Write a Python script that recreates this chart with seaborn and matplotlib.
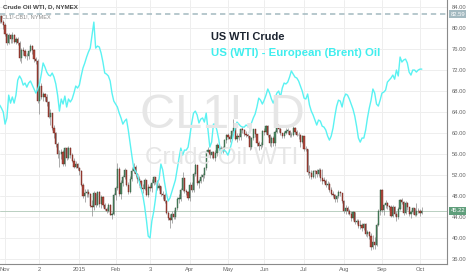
import numpy as np
import pandas as pd
import matplotlib
matplotlib.use("Agg")
import matplotlib.pyplot as plt
import seaborn as sns

# ---------------- data ----------------
month_labels = ["Nov", "2", "2015", "Feb", "3", "Apr", "May", "Jun", "Jul", "Aug", "Sep", "Oct"]
# trading bars per month: Oct-2014 (partial), Nov ... Sep, Oct-2015 (partial)
month_bars = [5, 19, 22, 20, 19, 22, 21, 20, 22, 22, 21, 21, 2]

wti_open = [
    81.20, 81.00, 81.42, 82.20, 81.12,
    80.54, 78.78, 77.19, 78.68, 77.91, 78.65, 77.40, 77.94, 77.18, 74.21, 75.82, 75.64, 74.61, 74.58, 75.58, 76.51, 75.78, 74.09, 73.69,
    66.15, 69.00, 66.88, 67.38, 66.81, 65.84, 63.05, 63.82, 60.94, 59.95, 57.81, 55.91, 55.93, 56.47, 54.11, 57.13, 55.26, 57.12, 55.84, 54.73, 53.61, 54.12,
    53.27, 52.69, 50.04, 47.93, 48.65, 48.79, 48.36, 46.07, 45.89, 48.48, 46.25, 48.69, 46.39, 47.78, 46.31, 45.59, 45.15, 46.23, 44.45, 44.53,
    48.24, 49.57, 53.05, 48.45, 50.48, 51.69, 52.86, 50.02, 48.84, 51.21, 52.78, 53.53, 52.14, 51.16, 50.81, 49.45, 49.25, 50.99, 48.17,
    49.76, 49.59, 50.52, 51.53, 50.76, 49.61, 50.00, 48.29, 48.17, 47.05, 44.84, 43.88, 43.46, 44.66, 43.96, 45.72, 47.45, 47.51, 49.21, 51.43, 48.87, 48.68,
    47.60, 50.09, 49.14, 52.14, 53.98, 50.42, 50.79, 51.64, 51.91, 53.29, 56.39, 56.71, 55.74, 56.38, 55.26, 56.16, 57.74, 57.15, 56.99, 57.06, 58.58,
    59.63, 59.15, 58.93, 60.40, 60.93, 58.94, 59.39, 59.25, 60.75, 60.50, 59.88, 59.69, 59.43, 57.26, 58.98, 60.72, 59.72, 58.03, 57.51, 57.68,
    60.30, 60.20, 61.26, 59.64, 58.00, 59.13, 58.14, 60.14, 61.43, 60.77, 59.96, 59.52, 59.97, 60.45, 60.45, 59.61, 59.68, 61.01, 60.27, 59.70, 59.63, 58.33,
    59.47, 56.96, 56.93, 52.53, 52.33, 51.65, 52.78, 52.74, 52.20, 53.04, 51.41, 50.91, 50.89, 50.15, 50.36, 49.19, 48.45, 48.14, 47.39, 47.98, 48.79, 48.52,
    47.12, 45.17, 45.74, 45.15, 44.66, 43.87, 44.96, 43.08, 43.30, 42.23, 42.50, 41.87, 42.62, 40.80, 41.14, 40.45, 38.24, 39.31, 38.60, 42.56, 45.22,
    49.20, 45.41, 46.25, 46.75, 46.05, 45.94, 44.15, 45.92, 44.63, 44.00, 45.59, 47.15, 46.90, 44.68, 46.68, 45.83, 44.48, 44.91, 45.70, 44.43, 45.23,
    45.09, 44.74,
]
wti_high = [
    81.9, 82.1, 82.5, 82.4, 81.6,
    80.9, 79.0, 79.0, 78.9, 79.2, 78.9, 78.3, 78.3, 77.6, 76.1, 76.3, 76.0, 75.3, 75.9, 77.0, 76.8, 76.0, 74.4, 74.0,
    69.5, 69.5, 67.9, 67.6, 67.4, 66.0, 64.5, 63.8, 61.5, 60.2, 58.2, 56.7, 57.0, 56.7, 57.4, 57.3, 57.5, 57.4, 56.2, 55.3, 54.6, 54.2,
    53.6, 53.0, 50.5, 49.3, 49.3, 49.3, 48.6, 47.3, 49.0, 48.6, 49.0, 48.9, 48.2, 48.0, 46.6, 46.0, 46.6, 46.4, 45.0, 48.5,
    50.0, 54.2, 53.5, 51.1, 52.0, 53.3, 53.0, 50.6, 51.8, 53.3, 54.2, 53.9, 52.4, 51.9, 51.0, 50.2, 51.4, 51.1, 50.3,
    50.3, 51.2, 51.8, 51.7, 51.0, 50.5, 50.0, 48.9, 48.5, 47.3, 45.2, 44.5, 45.1, 45.3, 46.0, 47.8, 48.4, 49.6, 52.5, 51.2, 49.3, 48.9,
    50.6, 50.6, 52.6, 54.2, 54.0, 51.3, 52.1, 52.3, 53.6, 56.7, 57.4, 57.0, 56.6, 56.6, 56.8, 58.0, 58.3, 57.5, 57.5, 58.9, 59.9,
    60.0, 59.7, 60.6, 62.6, 61.0, 60.0, 60.0, 61.0, 61.1, 60.8, 60.3, 60.2, 59.5, 59.2, 60.8, 60.8, 59.8, 58.4, 58.3, 60.5,
    60.9, 61.5, 61.5, 59.9, 59.5, 59.5, 60.5, 61.6, 61.6, 61.1, 60.0, 60.3, 61.0, 61.0, 60.5, 60.1, 61.3, 61.2, 60.5, 60.2, 59.8, 59.7,
    59.5, 57.6, 56.9, 53.9, 52.9, 52.9, 53.0, 53.2, 53.3, 53.4, 53.1, 51.6, 51.3, 50.9, 50.7, 49.7, 48.9, 48.3, 48.2, 49.2, 49.0, 48.6,
    47.3, 46.2, 46.1, 45.6, 45.1, 45.2, 45.0, 43.6, 43.6, 43.4, 42.9, 42.8, 42.8, 41.6, 41.4, 40.9, 40.5, 40.1, 42.8, 45.5, 49.3,
    49.4, 46.4, 47.2, 46.8, 46.3, 46.3, 46.2, 46.1, 45.1, 45.9, 47.5, 47.7, 47.1, 47.0, 46.8, 45.9, 45.3, 45.9, 45.8, 46.7, 45.7,
    45.6, 45.9,
]
wti_low = [
    80.2, 80.5, 81.0, 80.9, 79.9,
    78.5, 76.7, 76.9, 77.1, 77.2, 77.1, 77.0, 76.8, 73.8, 73.3, 74.9, 74.3, 73.9, 74.0, 75.4, 75.1, 73.6, 73.2, 65.7,
    63.7, 66.4, 66.0, 66.1, 65.2, 62.8, 61.6, 60.6, 59.0, 57.3, 55.3, 53.6, 55.0, 53.8, 53.8, 54.9, 55.1, 55.3, 54.5, 53.3, 53.3, 52.9,
    52.0, 49.9, 47.6, 46.8, 47.8, 47.8, 45.9, 44.2, 45.3, 46.0, 46.2, 46.0, 45.8, 46.0, 45.3, 44.8, 44.9, 44.3, 43.6, 44.4,
    47.3, 49.2, 48.0, 47.4, 49.9, 51.2, 49.9, 48.4, 48.6, 50.8, 52.4, 51.6, 50.5, 50.1, 48.9, 48.5, 49.1, 48.0, 47.9,
    48.9, 48.8, 50.1, 50.2, 49.2, 49.2, 48.0, 47.5, 46.7, 44.5, 43.5, 42.0, 42.9, 43.6, 43.7, 45.4, 46.7, 47.0, 48.9, 48.6, 48.2, 47.2,
    47.0, 48.8, 48.8, 51.8, 50.1, 49.6, 50.4, 50.8, 51.5, 53.0, 55.5, 55.3, 55.2, 55.0, 54.6, 55.6, 56.8, 56.6, 56.2, 56.5, 58.1,
    58.8, 58.2, 58.6, 60.0, 58.6, 58.3, 58.6, 58.7, 60.0, 59.4, 59.3, 59.0, 56.8, 57.0, 58.7, 59.3, 57.6, 56.8, 56.9, 57.4,
    59.7, 59.9, 59.3, 57.5, 57.4, 57.6, 57.6, 60.0, 60.2, 59.6, 59.0, 59.0, 59.8, 59.9, 59.3, 59.3, 59.5, 59.8, 59.4, 58.8, 57.3, 58.0,
    56.5, 56.6, 52.0, 51.5, 51.2, 51.4, 51.5, 51.6, 51.8, 50.8, 50.3, 50.4, 49.8, 49.4, 48.8, 48.2, 47.9, 46.9, 46.9, 47.7, 48.0, 46.7,
    44.8, 44.6, 44.6, 44.4, 43.3, 43.5, 42.7, 42.6, 42.0, 41.8, 41.4, 41.5, 40.4, 40.2, 39.9, 37.8, 38.0, 38.0, 38.4, 42.3, 44.4,
    44.9, 44.4, 45.8, 45.6, 45.3, 44.0, 44.0, 44.2, 43.2, 43.7, 45.3, 46.4, 44.3, 44.5, 45.4, 44.2, 43.8, 44.6, 44.2, 44.2, 44.7,
    44.2, 44.5,
]
wti_close = [
    81.00, 81.42, 82.20, 81.12, 80.54,
    78.78, 77.19, 78.68, 77.91, 78.65, 77.40, 77.94, 77.18, 74.21, 75.82, 75.64, 74.61, 74.58, 75.58, 76.51, 75.78, 74.09, 73.69, 66.15,
    69.00, 66.88, 67.38, 66.81, 65.84, 63.05, 63.82, 60.94, 59.95, 57.81, 55.91, 55.93, 56.47, 54.11, 57.13, 55.26, 57.12, 55.84, 54.73, 53.61, 54.12, 53.27,
    52.69, 50.04, 47.93, 48.65, 48.79, 48.36, 46.07, 45.89, 48.48, 46.25, 48.69, 46.39, 47.78, 46.31, 45.59, 45.15, 46.23, 44.45, 44.53, 48.24,
    49.57, 53.05, 48.45, 50.48, 51.69, 52.86, 50.02, 48.84, 51.21, 52.78, 53.53, 52.14, 51.16, 50.81, 49.45, 49.25, 50.99, 48.17, 49.76,
    49.59, 50.52, 51.53, 50.76, 49.61, 50.00, 48.29, 48.17, 47.05, 44.84, 43.88, 43.46, 44.66, 43.96, 45.72, 47.45, 47.51, 49.21, 51.43, 48.87, 48.68, 47.60,
    50.09, 49.14, 52.14, 53.98, 50.42, 50.79, 51.64, 51.91, 53.29, 56.39, 56.71, 55.74, 56.38, 55.26, 56.16, 57.74, 57.15, 56.99, 57.06, 58.58, 59.63,
    59.15, 58.93, 60.40, 60.93, 58.94, 59.39, 59.25, 60.75, 60.50, 59.88, 59.69, 59.43, 57.26, 58.98, 60.72, 59.72, 58.03, 57.51, 57.68, 60.30,
    60.20, 61.26, 59.64, 58.00, 59.13, 58.14, 60.14, 61.43, 60.77, 59.96, 59.52, 59.97, 60.45, 60.45, 59.61, 59.68, 61.01, 60.27, 59.70, 59.63, 58.33, 59.47,
    56.96, 56.93, 52.53, 52.33, 51.65, 52.78, 52.74, 52.20, 53.04, 51.41, 50.91, 50.89, 50.15, 50.36, 49.19, 48.45, 48.14, 47.39, 47.98, 48.79, 48.52, 47.12,
    45.17, 45.74, 45.15, 44.66, 43.87, 44.96, 43.08, 43.30, 42.23, 42.50, 41.87, 42.62, 40.80, 41.14, 40.45, 38.24, 39.31, 38.60, 42.56, 45.22, 49.20,
    45.41, 46.25, 46.75, 46.05, 45.94, 44.15, 45.92, 44.63, 44.00, 45.59, 47.15, 46.90, 44.68, 46.68, 45.83, 44.48, 44.91, 45.70, 44.43, 45.23, 45.09,
    44.74, 45.22,
]
# US (WTI) - European (Brent) spread, own hidden scale
spread = [
    -4.57, -4.57, -4.57, -4.74, -4.95, -5.60, -5.27, -4.04, -4.47, -4.14,
    -4.47, -4.04, -3.23, -3.01, -3.18, -3.50, -3.39, -3.61, -3.39, -3.28,
    -3.50, -3.71, -3.93, -3.71, -3.44, -2.91, -2.31, -2.53, -2.80, -2.96,
    -3.01, -2.85, -3.07, -3.44, -4.04, -4.90, -4.25, -4.52, -4.09, -4.68,
    -4.25, -4.41, -4.25, -3.93, -3.55, -3.66, -3.50, -3.01, -2.58, -2.31,
    -1.99, -1.72, -1.51, -0.81, -0.11, -1.51, -1.40, -1.45, -1.78, -2.26,
    -2.85, -2.91, -3.01, -3.28, -3.93, -4.36, -4.52, -4.68, -5.01, -5.27,
    -5.60, -5.44, -5.33, -5.92, -6.62, -7.32, -7.97, -8.13, -8.34, -8.67,
    -9.04, -9.42, -10.01, -10.76, -11.63, -11.73, -10.82, -10.33, -9.63, -8.77,
    -8.56, -7.75, -8.07, -8.72, -9.31, -9.74, -9.58, -9.26, -8.93, -8.61,
    -8.02, -7.43, -6.89, -7.27, -7.00, -7.00, -6.84, -6.24, -5.54, -5.01,
    -4.90, -5.11, -5.54, -5.33, -5.27, -5.49, -5.01, -5.92, -6.84, -6.57,
    -5.60, -5.60, -5.97, -6.46, -7.21, -7.00, -7.00, -7.10, -7.27, -7.00,
    -6.62, -6.19, -5.81, -5.49, -5.60, -5.71, -5.76, -5.76, -5.65, -5.71,
    -5.81, -5.54, -5.27, -5.06, -4.68, -4.20, -4.31, -4.52, -4.31, -4.04,
    -3.71, -3.93, -4.25, -4.47, -4.20, -3.93, -3.82, -4.14, -3.66, -3.39,
    -3.44, -3.34, -3.07, -2.74, -2.91, -3.07, -3.12, -3.28, -3.55, -3.82,
    -4.20, -4.25, -3.98, -4.57, -4.90, -5.11, -5.38, -5.65, -5.38, -5.44,
    -5.71, -5.76, -5.92, -6.24, -6.46, -6.24, -5.81, -5.17, -4.63, -4.31,
    -4.36, -4.68, -4.20, -3.98, -4.04, -4.25, -4.52, -4.79, -5.17, -5.71,
    -6.35, -6.57, -6.35, -6.35, -5.92, -5.27, -4.74, -4.31, -3.71, -3.93,
    -4.52, -4.63, -4.31, -3.93, -3.88, -3.77, -3.34, -3.23, -3.12, -2.96,
    -3.18, -2.69, -3.01, -1.99, -2.26, -2.15, -2.10, -2.31, -2.80, -2.96,
    -2.69, -2.69, -2.80, -2.69, -2.64, -2.64,
]
price_ticks = [36, 40, 44, 48, 52, 56, 60, 64, 68, 72, 76, 80, 84]
last_price = 45.22
marker_price = 82.59
title_text = "Crude Oil WTI, D, NYMEX"
sub_text = "CL1!-CB1!, NYMEX"
legend_wti = "US WTI Crude"
legend_spread = "US (WTI) - European (Brent) Oil"
watermark_big = "CL1!, D"
watermark_small = "Crude Oil WTI"

# ---------------- style ----------------
sns.set_style("white")
plt.rcParams["font.family"] = ["Liberation Sans", "DejaVu Sans"]

W, H = 466, 275
fig = plt.figure(figsize=(W / 100, H / 100), dpi=100)
ax_l, ax_r, ax_t, ax_b = 0, 447, 0, 264
ax = fig.add_axes([ax_l / W, 1 - ax_b / H, (ax_r - ax_l) / W, (ax_b - ax_t) / H])

n = len(wti_close)
idx = np.arange(n)
df = pd.DataFrame({"bar": idx, "open": wti_open, "high": wti_high,
                   "low": wti_low, "close": wti_close, "spread": spread})

# watermark
fig.text(222 / W, 1 - 116 / H, watermark_big, fontsize=35, color="#e6e6e6",
         ha="center", va="center", zorder=0)
fig.text(222 / W, 1 - 158 / H, watermark_small, fontsize=17.5, color="#e6e6e6",
         ha="center", va="center", zorder=0)
ax.set_facecolor("none")

# grid
ticks = np.cumsum(month_bars)[:-1]
for t in ticks:
    ax.axvline(t, color="#eeeeee", lw=0.7, zorder=1)
for p in price_ticks:
    ax.axhline(p, color="#eeeeee", lw=0.7, zorder=1)

# candles
up = df["close"] >= df["open"]
ax.vlines(df["bar"], df["low"], df["high"], color="#8c8c8c", lw=0.5, zorder=3)
body_bottom = np.minimum(df["open"], df["close"])
body_h = np.maximum(np.abs(df["close"] - df["open"]), 0.08)
ax.bar(df["bar"][up], body_h[up], bottom=body_bottom[up], width=0.65,
       color="#4f8a66", edgecolor="#2c5a3c", lw=0.3, zorder=4)
ax.bar(df["bar"][~up], body_h[~up], bottom=body_bottom[~up], width=0.65,
       color="#b04a3e", edgecolor="#6a2018", lw=0.3, zorder=4)

# price lines
ax.axhline(last_price, color="#b9cfc1", lw=0.7, zorder=2)
ax.axhline(marker_price, color="#a3b9c0", lw=1.1, ls=(0, (3.5, 2.5)), zorder=2)

ax.set_xlim(2.2, 248.9)
ax.set_ylim(35.05, 85.33)

# spread overlay on own scale
ax2 = ax.twinx()
sns.lineplot(data=df, x="bar", y="spread", ax=ax2, color="#5af2f2", lw=1.0, zorder=5)
ax2.set_ylim(-13.13, 1.08)
ax2.set_xlim(2.2, 248.9)
ax2.set_yticks([])
ax2.set_ylabel("")
ax2.set_xlabel("")
for s in ax2.spines.values():
    s.set_visible(False)

# axes styling (after twinx, which resets tick side)
for s in ["top", "left"]:
    ax.spines[s].set_visible(False)
for s in ["right", "bottom"]:
    ax.spines[s].set_visible(True)
    ax.spines[s].set_color("#8a8a8a")
    ax.spines[s].set_linewidth(0.8)
ax.yaxis.tick_right()
ax.yaxis.set_label_position("right")
ax.set_yticks(price_ticks)
ax.set_yticklabels([f"{p:.2f}" for p in price_ticks])
ax.set_xticks(ticks)
ax.set_xticklabels(month_labels)
ax.tick_params(axis="y", which="both", left=False, right=False, labelleft=False,
               labelright=True, length=0, pad=3.5, labelsize=4.2, labelcolor="#666666")
ax.tick_params(axis="x", length=0, pad=2.2, labelsize=4.2, labelcolor="#666666")
ax.set_xlabel("")
ax.set_ylabel("")

# right-hand value tags
ax.annotate(f"{last_price:.2f}", xy=(1.0, last_price), xycoords=("axes fraction", "data"),
            xytext=(2.5, 0), textcoords="offset points", ha="left", va="center",
            fontsize=4.2, color="white", zorder=10,
            bbox=dict(boxstyle="square,pad=0.25", fc="#5f9e7b", ec="none"), annotation_clip=False)
ax.annotate(f"{marker_price:.2f}", xy=(1.0, marker_price), xycoords=("axes fraction", "data"),
            xytext=(2.5, 0), textcoords="offset points", ha="left", va="center",
            fontsize=4.2, color="white", zorder=10,
            bbox=dict(boxstyle="square,pad=0.25", fc="#a3b9c0", ec="none"), annotation_clip=False)

# header texts
fig.text(3 / W, 1 - 7 / H, title_text, fontsize=4.5, color="#444444",
         fontweight="bold", ha="left", va="center")
fig.text(2 / W, 1 - 16.5 / H, sub_text, fontsize=4.0, color="#888888",
         ha="left", va="center")

# legend texts
fig.text(211 / W, 1 - 37 / H, legend_wti, fontsize=7.9, color="#1c2430",
         fontweight="bold", ha="left", va="center")
fig.text(211 / W, 1 - 52.5 / H, legend_spread, fontsize=8.2, color="#40eeee",
         fontweight="bold", ha="left", va="center")

fig.savefig("out.png", dpi=100, facecolor="white")
